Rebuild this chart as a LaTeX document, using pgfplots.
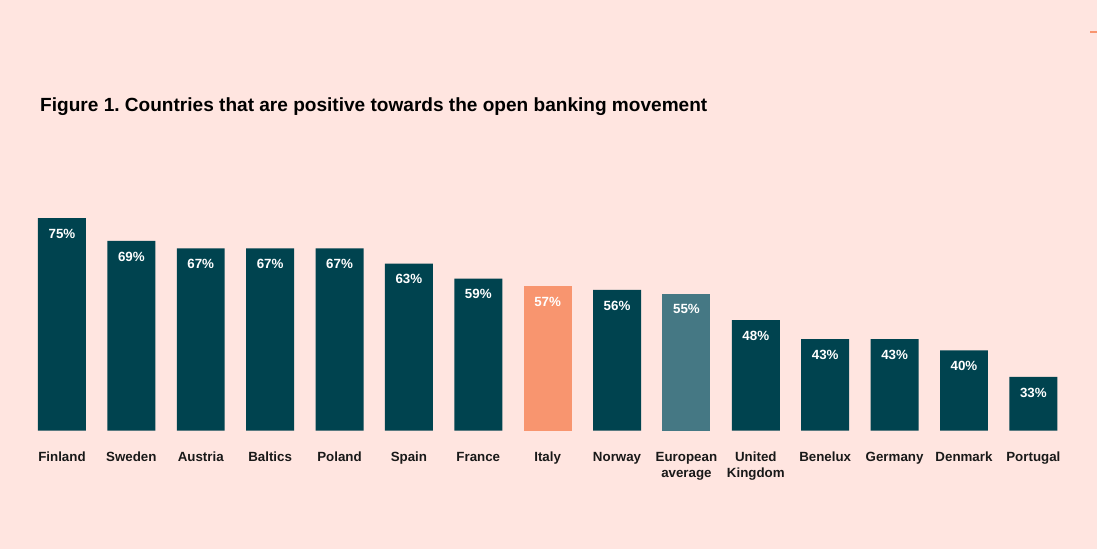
\documentclass[border=0pt]{standalone}
\usepackage{pgfplots}
\pgfplotsset{compat=1.18}
\usepackage{fontspec}
\setmainfont{Liberation Sans}
\definecolor{bg}{HTML}{FFE5E0}
\definecolor{teal}{HTML}{00434F}
\definecolor{salmon}{HTML}{F8956F}
\definecolor{midteal}{HTML}{457884}
\begin{document}
\frenchspacing
\begin{tikzpicture}[x=0.75pt,y=0.75pt]
\fill[bg] (0,0) rectangle (1098,549);
\draw[salmon, line width=1pt] (1091,517) -- (1098,517);
\node[anchor=base west, inner sep=0, font=\bfseries\fontsize{14.3}{17}\selectfont] at (40,437) {Figure 1. Countries that are positive towards the open banking movement};
\begin{axis}[
  at={(20.475pt,88.5pt)}, anchor=south west,
  scale only axis, width=781.05pt, height=211.5pt,
  xmin=-0.5, xmax=14.5, ymin=18.75, ymax=93.33,
  axis line style={draw=none}, tick style={draw=none},
  ytick=\empty,
  xtick={0,...,14},
  xticklabels={Finland,Sweden,Austria,Baltics,Poland,Spain,France,Italy,Norway,{European\\average},{United\\Kingdom},Benelux,Germany,Denmark,Portugal},
  typeset ticklabels with strut,
  xticklabel style={font=\bfseries\fontsize{10}{12}\selectfont, align=center, inner sep=0pt, yshift=-10.5pt, text=black!90},
  ybar, bar width=36pt,
  /pgf/number format/assume math mode=true,
  nodes near coords={\pgfmathprintnumber{\pgfplotspointmeta}\%},
  every node near coord/.append style={anchor=north, yshift=-8pt, inner sep=0pt, text=white, font=\bfseries\fontsize{10}{12}\selectfont},
  clip=false,
]
\addplot[draw=none, fill=teal, bar shift=0pt] coordinates {(0,75) (1,69) (2,67) (3,67) (4,67) (5,63) (6,59) (8,56) (10,48) (11,43) (12,43) (13,40) (14,33)};
\addplot[draw=none, fill=salmon, bar shift=0pt] coordinates {(7,57)};
\addplot[draw=none, fill=midteal, bar shift=0pt] coordinates {(9,55)};
\end{axis}
\end{tikzpicture}
\end{document}
